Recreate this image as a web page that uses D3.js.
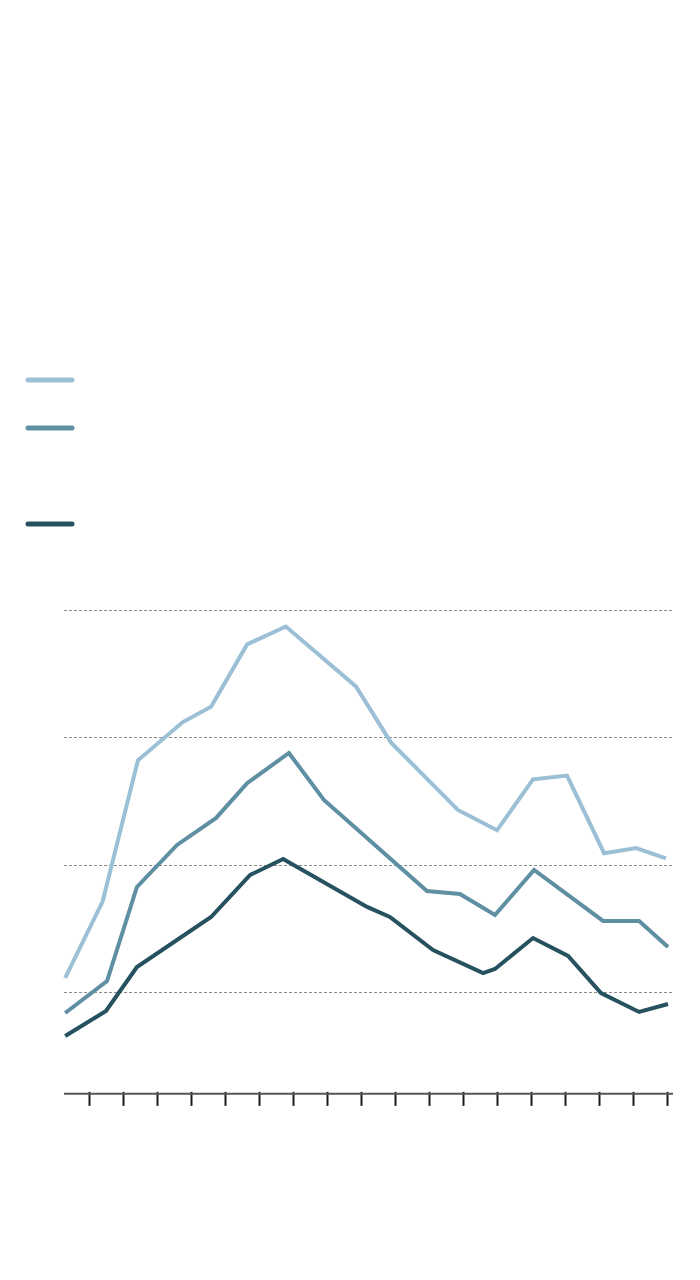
<!DOCTYPE html>
<html>
<head>
<meta charset="utf-8">
<script src="https://cdn.jsdelivr.net/npm/d3@7"></script>
<style>
  body { margin: 0; background: #fff; }
  svg { display: block; }
</style>
</head>
<body>
<div id="graph"></div>
<script>
// series values (x = period, y = value)
const lightX = [0.3, 1.4, 2.44, 3.76, 4.59, 5.65, 6.79, 8.85, 9.88, 11.85, 13.0, 14.06, 15.06, 16.15, 17.09, 17.97]
const lightY = [11.1, 17.1, 28.2, 31.2, 32.4, 37.3, 38.7, 34.0, 29.6, 24.3, 22.7, 26.7, 27.0, 20.9, 21.3, 20.5]

const midX = [0.3, 1.53, 2.41, 3.59, 4.74, 5.65, 6.88, 7.91, 10.94, 11.91, 12.94, 14.09, 16.12, 17.18, 18.03]
const midY = [8.35, 10.86, 18.25, 21.55, 23.67, 26.4, 28.77, 25.08, 17.93, 17.7, 16.05, 19.58, 15.58, 15.58, 13.53]

const darkX = [0.3, 1.5, 2.41, 4.59, 5.74, 6.71, 9.18, 9.85, 11.12, 12.59, 12.94, 14.06, 15.09, 16.06, 17.18, 18.03]
const darkY = [6.54, 8.51, 11.96, 15.89, 19.19, 20.45, 16.68, 15.89, 13.3, 11.49, 11.81, 14.24, 12.83, 9.92, 8.43, 9.06]

const gridValues = [10, 20, 30, 40]
const tickValues = d3.range(1, 19)

const series = [
  { name: "light", color: "#9bc0d6", xs: lightX, ys: lightY, legendY: 380 },
  { name: "mid", color: "#5e8fa3", xs: midX, ys: midY, legendY: 428 },
  { name: "dark", color: "#26515f", xs: darkX, ys: darkY, legendY: 524 }
]

const width = 700
const height = 1280

const svg = d3.select("#graph").append("svg")
  .attr("width", width)
  .attr("height", height)

const x = d3.scaleLinear().domain([0, 18]).range([55, 667])
const y = d3.scaleLinear().domain([10, 40]).range([992, 610])

const left = 64, right = 673
const baseY = y(2)

// dotted grid lines
svg.append("g")
  .selectAll("line")
  .data(gridValues)
  .enter()
  .append("line")
  .attr("x1", left)
  .attr("x2", right - 1)
  .attr("y1", d => Math.round(y(d)) + 0.5)
  .attr("y2", d => Math.round(y(d)) + 0.5)
  .attr("stroke", "#8a8a8a")
  .attr("stroke-width", 1)
  .attr("stroke-dasharray", "3,2")

// x axis, ticks only
const xAxis = d3.axisBottom(x)
  .tickValues(tickValues)
  .tickSize(14)
  .tickSizeOuter(0)
  .tickFormat("")

const ax = svg.append("g")
  .attr("transform", "translate(0," + (baseY - 2) + ")")
  .call(xAxis)
ax.select(".domain").remove()
ax.selectAll(".tick line")
  .attr("stroke", "#1a1a1a")
  .attr("stroke-width", 2)

svg.append("line")
  .attr("x1", left)
  .attr("x2", right)
  .attr("y1", baseY)
  .attr("y2", baseY)
  .attr("stroke", "#555")
  .attr("stroke-width", 2)

// lines
const line = d3.line()
  .x(d => x(d[0]))
  .y(d => y(d[1]))

svg.append("g")
  .selectAll("path")
  .data(series)
  .enter()
  .append("path")
  .attr("d", s => line(s.xs.map((v, i) => [v, s.ys[i]])))
  .attr("fill", "none")
  .attr("stroke", s => s.color)
  .attr("stroke-width", 4)
  .attr("stroke-linejoin", "miter")

// legend swatches
svg.append("g")
  .selectAll("line")
  .data(series)
  .enter()
  .append("line")
  .attr("x1", 28)
  .attr("x2", 72)
  .attr("y1", s => s.legendY)
  .attr("y2", s => s.legendY)
  .attr("stroke", s => s.color)
  .attr("stroke-width", 5)
  .attr("stroke-linecap", "round")
</script>
</body>
</html>
